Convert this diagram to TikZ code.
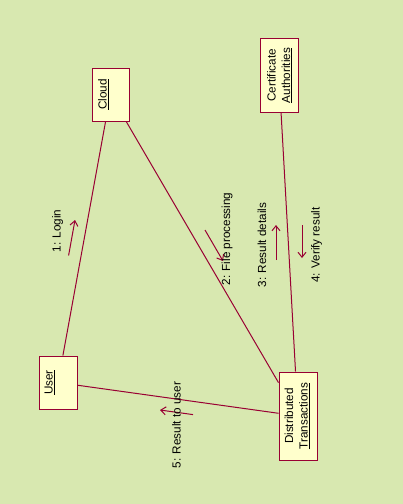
\documentclass[tikz,border=0pt]{standalone}
\usepackage{fontspec}
\setmainfont{Liberation Sans}
\usetikzlibrary{arrows.meta}
\definecolor{bg}{RGB}{216,232,176}
\definecolor{boxfill}{RGB}{255,255,204}
\definecolor{rose}{RGB}{153,0,51}
\begin{document}
\begin{tikzpicture}[x=1pt,y=-1pt,
  objbox/.style={draw=rose, fill=boxfill, line width=1pt, inner sep=0pt},
  objtext/.style={rotate=90, anchor=north, inner sep=0pt, align=center, font=\fontsize{11.7}{14.5}\selectfont},
  lbl/.style={rotate=90, inner sep=0pt, font=\fontsize{11.7}{14}\selectfont},
  link/.style={draw=rose, line width=1pt},
  msg/.style={draw=rose, line width=1pt, -{Straight Barb[length=5pt,width=8pt]}}]
\fill[bg] (0,0) rectangle (403,504);
\useasboundingbox (0,0) rectangle (403,504);
% objects
\node[objbox, minimum width=37pt, minimum height=53pt] (cloud) at (110.5,94.5) {};
\node[objbox, minimum width=38pt, minimum height=74pt] (ca) at (279,75.5) {};
\node[objbox, minimum width=38pt, minimum height=53pt] (user) at (58,382.5) {};
\node[objbox, minimum width=38pt, minimum height=88pt] (dt) at (298,416) {};
\node[objtext] (cloudt) at ([xshift=6.5pt]cloud.west) {\underline{Cloud}};
\node[objtext] (cat) at ([xshift=7.5pt]ca.west) {Certificate\\\underline{Authorities}};
\node[objtext] (usert) at ([xshift=6pt]user.west) {\underline{User}};
\node[objtext] (dtt) at ([xshift=6pt]dt.west) {Distributed\\\underline{Transactions}};
% links
\draw[link] (cloud) -- (user);
\draw[link] (cloud) -- (dt);
\draw[link] (ca) -- (dt);
\draw[link] (user) -- (dt);
% messages
\coordinate (m1s) at (68.6,255.5); \coordinate (m1e) at (75,220);
\coordinate (m2s) at (205,230);    \coordinate (m2e) at (223,261);
\coordinate (m3s) at (276,260);    \coordinate (m3e) at (276,225);
\coordinate (m4s) at (302,225);    \coordinate (m4e) at (302,258);
\coordinate (m5s) at (193,414.6);  \coordinate (m5e) at (160,410);
\draw[msg] (m1s) -- (m1e);
\draw[msg] (m2s) -- (m2e);
\draw[msg] (m3s) -- (m3e);
\draw[msg] (m4s) -- (m4e);
\draw[msg] (m5s) -- (m5e);
\node[lbl] (l1) at (57.5,231) {1: Login};
\node[lbl] (l2) at (227,239) {2: File processing};
\node[lbl] (l3) at (262,245) {3: Result details};
\node[lbl] (l4) at (316.5,245) {4: Verify result};
\node[lbl] (l5) at (176.5,425) {5: Result to user};
\end{tikzpicture}
\end{document}
